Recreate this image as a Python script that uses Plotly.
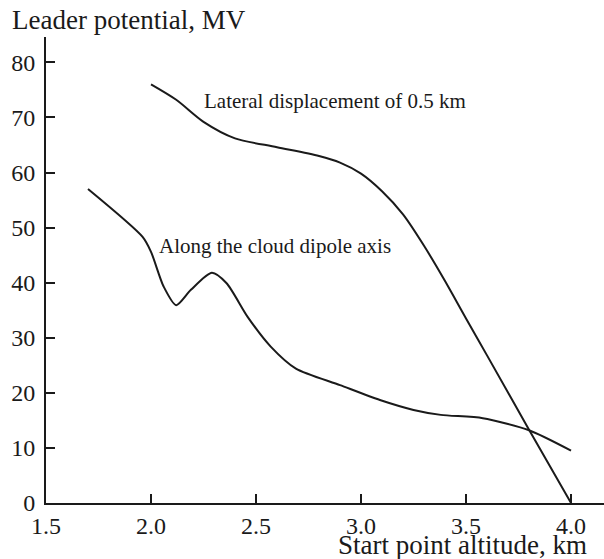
import plotly.graph_objects as go

lat_x = [2.0, 2.12, 2.25, 2.4, 2.6, 2.8, 2.9, 3.0, 3.1, 3.2, 3.3, 3.4, 3.5, 3.6, 3.8, 4.0]
lat_y = [76, 73.2, 69.2, 66.2, 64.6, 63, 61.8, 59.8, 56.6, 52.4, 46.7, 40.3, 33.5, 26.8, 13.3, 0]

axis_x = [1.7, 1.96, 2.0, 2.06, 2.12, 2.19, 2.29, 2.36, 2.46, 2.57, 2.69, 2.9, 3.09, 3.25, 3.38, 3.58, 3.8, 4.0]
axis_y = [57, 48.3, 45.6, 39.3, 35.9, 38.7, 41.8, 39.9, 33.8, 28.4, 24.4, 21.4, 18.7, 16.9, 16.0, 15.4, 13.2, 9.5]

x_ticks = [1.5, 2.0, 2.5, 3.0, 3.5, 4.0]
x_tick_text = ["1.5", "2.0", "2.5", "3.0", "3.5", "4.0"]
y_ticks = [0, 10, 20, 30, 40, 50, 60, 70, 80]

FONT = "Liberation Serif, Times New Roman, serif"
INK = "#1a1a1a"

fig = go.Figure()
fig.add_trace(go.Scatter(x=lat_x, y=lat_y, mode="lines",
                         line=dict(color=INK, width=2, shape="spline", smoothing=0.8),
                         showlegend=False, hoverinfo="skip"))
fig.add_trace(go.Scatter(x=axis_x, y=axis_y, mode="lines",
                         line=dict(color=INK, width=2, shape="spline", smoothing=0.7),
                         showlegend=False, hoverinfo="skip"))

fig.add_annotation(x=2.245, y=73.0, xref="x", yref="y", text="Lateral displacement of 0.5 km",
                   showarrow=False, xanchor="left", yanchor="middle",
                   font=dict(family=FONT, size=21, color=INK))
fig.add_annotation(x=2.027, y=46.6, xref="x", yref="y", text="Along the cloud dipole axis",
                   showarrow=False, xanchor="left", yanchor="middle",
                   font=dict(family=FONT, size=21, color=INK))
fig.add_annotation(x=0, y=1, xref="paper", yref="paper", text="Leader potential, MV",
                   showarrow=False, xanchor="left", yanchor="middle", xshift=-36, yshift=17,
                   font=dict(family=FONT, size=27, color=INK))
fig.add_annotation(x=1, y=0, xref="paper", yref="paper", text="Start point altitude, km",
                   showarrow=False, xanchor="right", yanchor="middle", xshift=-15, yshift=-42,
                   font=dict(family=FONT, size=27, color=INK))

fig.update_xaxes(range=[1.5, 4.157], tickvals=x_ticks, ticktext=x_tick_text,
                 ticks="inside", ticklen=9, tickwidth=1.5, tickcolor=INK,
                 showline=True, linecolor=INK, linewidth=2, showgrid=False, zeroline=False,
                 ticklabelstandoff=0,
                 tickfont=dict(family=FONT, size=24, color=INK))
fig.update_yaxes(range=[0, 84.6], tickvals=y_ticks,
                 ticks="inside", ticklen=9, tickwidth=1.5, tickcolor=INK,
                 showline=True, linecolor=INK, linewidth=2, showgrid=False, zeroline=False,
                 ticklabelstandoff=4,
                 tickfont=dict(family=FONT, size=24, color=INK))

fig.update_layout(width=604, height=559, margin=dict(l=46, r=0, t=37, b=56),
                  plot_bgcolor="white", paper_bgcolor="white")

fig.write_html("out.html")
